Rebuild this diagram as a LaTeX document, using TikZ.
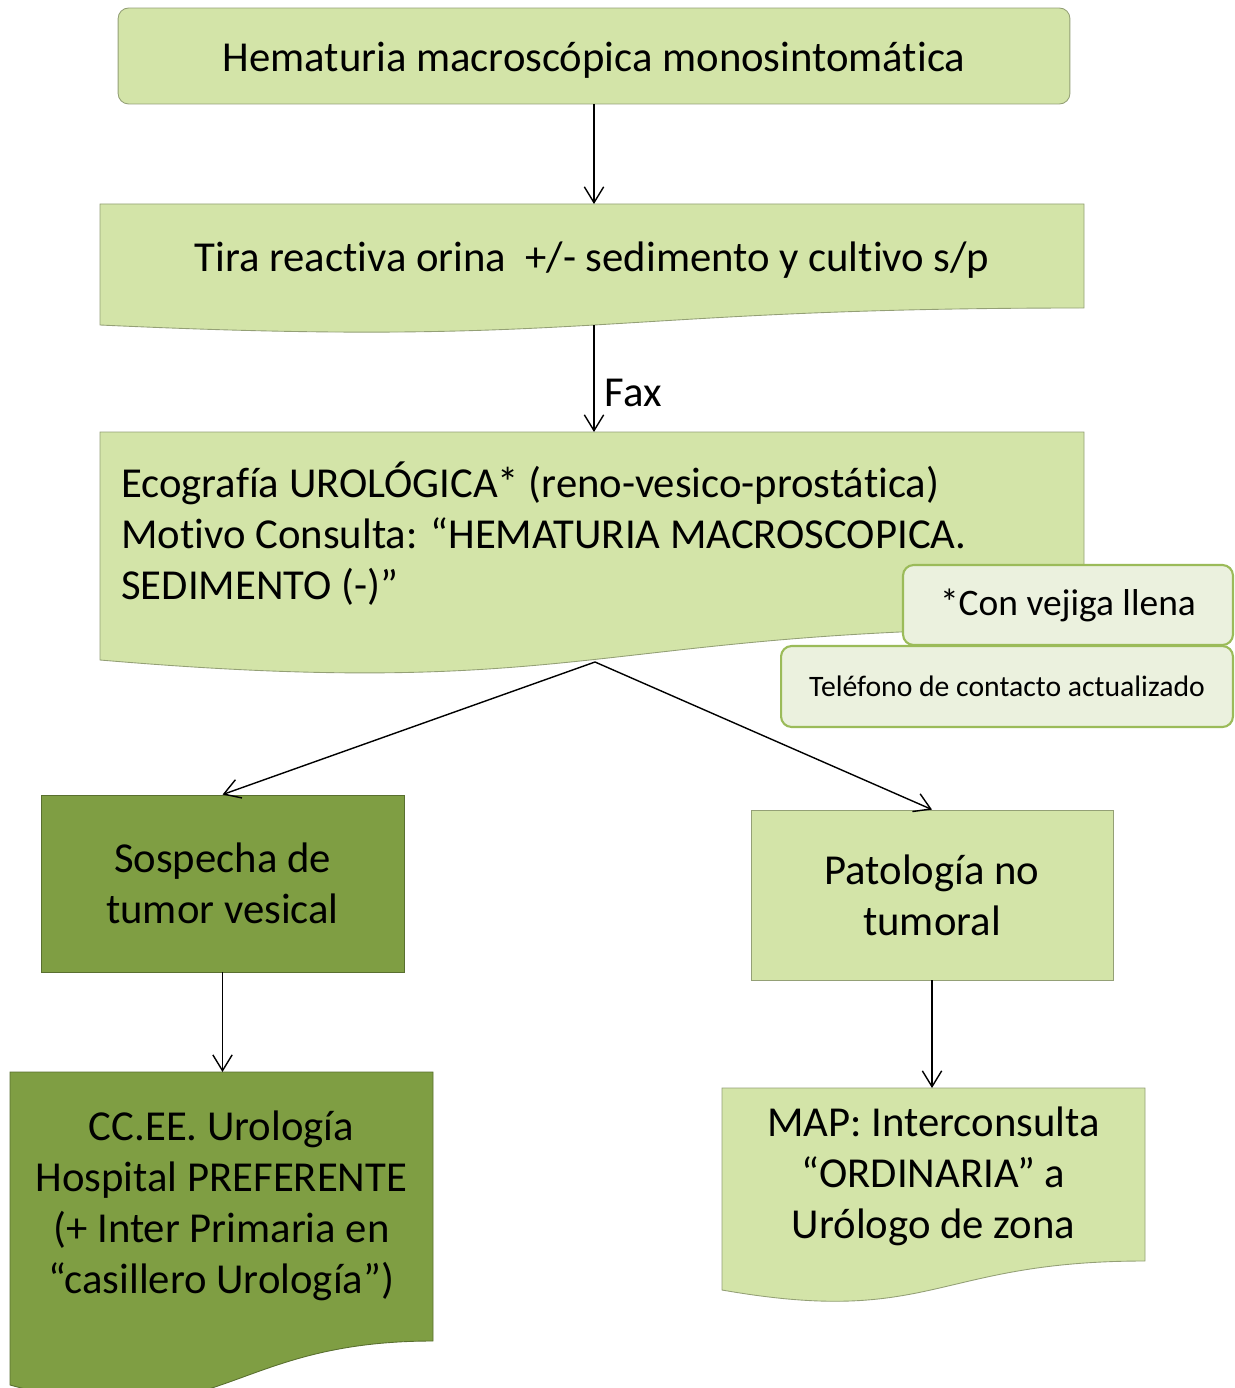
\documentclass[tikz,border=0pt]{standalone}
\usepackage{fontspec}
\setmainfont{Carlito}[Ligatures=CommonOff]
\usetikzlibrary{arrows.meta}
\definecolor{verdeclaro}{HTML}{D3E4A8}
\definecolor{verdeoscuro}{HTML}{7F9E43}
\definecolor{verdeborde}{HTML}{9BBB59}
\definecolor{verdenota}{HTML}{EBF1DE}
\tikzset{
    caja/.style={fill=verdeclaro, draw=verdeclaro!70!black, line width=0.5pt},
    cajaosc/.style={fill=verdeoscuro, draw=verdeoscuro!70!black, line width=0.5pt},
    nota/.style={fill=verdenota, draw=verdeborde, line width=1.2pt, rounded corners=6pt},
    texto/.style={font=\fontsize{24.3}{29}\selectfont, align=center, inner sep=0pt},
    flecha/.style={-{Straight Barb[length=9pt, width=11pt]}, line width=0.8pt}
}
\begin{document}
\begin{tikzpicture}[x=0.02cm, y=-0.02cm]
                \clip (0,0) rectangle (1234,1388);
                \node [caja, texto, rounded corners=6pt, minimum width=19.04cm, minimum height=1.92cm, text height=17.6pt, text depth=0pt] (hema) at (594,56) {Hematuria macroscópica monosintomática};
                \draw [caja] (100,204) -- (1084,204) -- (1084,308) .. controls (592,308) and (592,348) .. (100,325) -- cycle;
                \node [texto] (tira) at (592,260) {Tira reactiva orina~ +/- sedimento y cultivo s/p};
                \coordinate (tira-n) at (594,204);
                \coordinate (tira-s) at (594,325);
                \draw [caja] (100,432) -- (1084,432) -- (1084,628) .. controls (592,628) and (592,702) .. (100,660) -- cycle;
                \node [texto, anchor=west, align=left] (eco) at (121,534) {Ecografía UROLÓGICA* (reno-vesico-prostática)\\Motivo Consulta: “HEMATURIA MACROSCOPICA.\\SEDIMENTO (-)”};
                \coordinate (eco-n) at (594,432);
                \coordinate (eco-s) at (595,662);
                \node [nota, minimum width=6.6cm, minimum height=1.6cm, font=\fontsize{21.3}{25}\selectfont] (vejiga) at (1068,605) {*Con vejiga llena};
                \node [nota, minimum width=9.04cm, minimum height=1.62cm, font=\fontsize{16.9}{20}\selectfont] (telefono) at (1007,686.5) {Teléfono de contacto actualizado};
                \node [cajaosc, texto, minimum width=7.26cm, minimum height=3.54cm] (sospecha) at (222.5,883.5) {Sospecha de\\tumor vesical};
                \node [caja, texto, minimum width=7.24cm, minimum height=3.4cm] (patologia) at (932,895) {Patología no\\tumoral};
                \draw [cajaosc] (10,1072) -- (433,1072) -- (433,1341) .. controls (221.5,1341) and (221.5,1443) .. (10,1385) -- cycle;
                \node [texto] (ccee) at (221.5,1206) {CC.EE. Urología\\Hospital PREFERENTE\\(+ Inter Primaria en\\“casillero Urología”)};
                \coordinate (ccee-n) at (222.5,1072);
                \draw [caja] (722,1088) -- (1145,1088) -- (1145,1261) .. controls (933.5,1261) and (933.5,1327) .. (722,1290) -- cycle;
                \node [texto] (map) at (933.5,1176) {MAP: Interconsulta\\“ORDINARIA” a\\Urólogo de zona};
                \coordinate (map-n) at (932,1088);
                \draw [flecha] (hema) -- (tira-n);
                \draw [flecha] (tira-s) -- (eco-n) node [texto, anchor=west, pos=0.6, xshift=0.2cm, yshift=-2pt] (fax) {Fax};
                \draw [flecha] (eco-s) -- (sospecha.north);
                \draw [flecha] (eco-s) -- (patologia.north);
                \draw [flecha] (sospecha) -- (ccee-n);
                \draw [flecha] (patologia) -- (map-n);
            \end{tikzpicture}
\end{document}
